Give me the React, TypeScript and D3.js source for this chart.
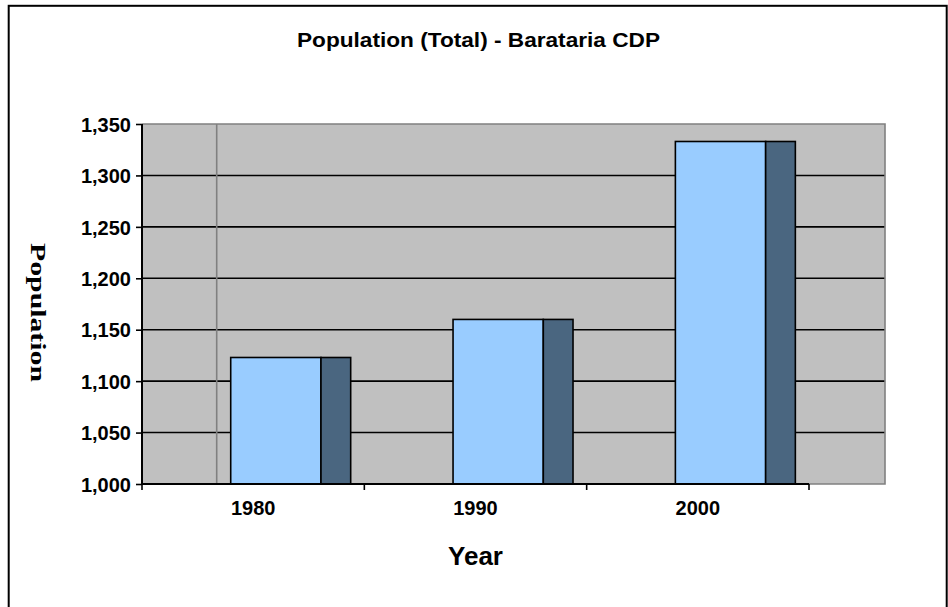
import { useEffect, useRef } from 'react';
import * as d3 from 'd3';

const years = ['1980', '1990', '2000'];
const population = [1123, 1160, 1333];
const yTicks = [1000, 1050, 1100, 1150, 1200, 1250, 1300, 1350];

const W = 948;
const H = 607;

export default function App() {
  const svgRef = useRef<SVGSVGElement>(null);

  useEffect(() => {
    const svg = d3.select(svgRef.current);
    if (!svg.node()) return;
    svg.selectAll('*').remove();

    const plot = { left: 142, right: 885, top: 124, bottom: 484 };
    const catEnd = 809;

    const x = d3.scaleBand<string>().domain(years).range([plot.left, catEnd]).padding(0);
    const y = d3.scaleLinear().domain([1000, 1350]).range([plot.bottom, plot.top]);
    const bw = x.bandwidth();

    // outer frame
    svg
      .append('rect')
      .attr('x', 8.7)
      .attr('y', 5.8)
      .attr('width', 938)
      .attr('height', 640)
      .attr('fill', '#fff')
      .attr('stroke', '#000')
      .attr('stroke-width', 2);

    svg
      .append('text')
      .attr('x', 478.5)
      .attr('y', 47)
      .attr('text-anchor', 'middle')
      .attr('font-family', 'Arial, "Liberation Sans", sans-serif')
      .attr('font-weight', 'bold')
      .attr('font-size', 20)
      .attr('textLength', 363)
      .attr('lengthAdjust', 'spacingAndGlyphs')
      .text('Population (Total) - Barataria CDP');

    // plot background
    svg
      .append('rect')
      .attr('x', plot.left)
      .attr('y', plot.top)
      .attr('width', plot.right - plot.left)
      .attr('height', plot.bottom - plot.top)
      .attr('fill', '#c0c0c0');

    // gridlines
    svg
      .append('g')
      .selectAll('line')
      .data(yTicks.filter((t) => t > 1000 && t < 1350))
      .join('line')
      .attr('x1', plot.left)
      .attr('x2', plot.right)
      .attr('y1', (d) => y(d))
      .attr('y2', (d) => y(d))
      .attr('stroke', '#000')
      .attr('stroke-width', 1.6);

    // odd gray vertical line from the source chart
    svg
      .append('line')
      .attr('x1', 216.7)
      .attr('x2', 216.7)
      .attr('y1', plot.top)
      .attr('y2', plot.bottom)
      .attr('stroke', '#808080')
      .attr('stroke-width', 1.6);

    // plot border (top/right/bottom-right) in gray
    svg
      .append('path')
      .attr('d', `M${plot.left},${plot.top}H${plot.right}V${plot.bottom}H${catEnd}`)
      .attr('fill', 'none')
      .attr('stroke', '#808080')
      .attr('stroke-width', 1.6);

    const bars = svg.append('g');
    years.forEach((yr, i) => {
      const x0 = (x(yr) ?? 0) + bw * 0.399;
      const fw = bw * 0.406;
      const sw = bw * 0.1336;
      const top = y(population[i]);
      bars
        .append('rect')
        .attr('x', x0)
        .attr('y', top)
        .attr('width', fw)
        .attr('height', plot.bottom - top)
        .attr('fill', '#99ccff')
        .attr('stroke', '#000')
        .attr('stroke-width', 1.6);
      bars
        .append('rect')
        .attr('x', x0 + fw)
        .attr('y', top)
        .attr('width', sw)
        .attr('height', plot.bottom - top)
        .attr('fill', '#4a6680')
        .attr('stroke', '#000')
        .attr('stroke-width', 1.6);
    });

    const font = 'Arial, "Liberation Sans", sans-serif';

    const yAxis = svg
      .append('g')
      .attr('transform', `translate(${plot.left},0)`)
      .call(
        d3
          .axisLeft(y)
          .tickValues(yTicks)
          .tickSize(6)
          .tickPadding(5)
          .tickFormat((d) => d3.format(',')(d as number)),
      );
    yAxis.select('.domain').attr('stroke-width', 2).attr('d', `M0,${plot.top}V${plot.bottom}`);
    yAxis.selectAll('.tick line').attr('stroke-width', 1.6);
    yAxis
      .selectAll('.tick text')
      .attr('font-family', font)
      .attr('font-weight', 'bold')
      .attr('font-size', 20)
      .attr('dy', '0.36em')
      .attr('fill', '#000');

    const xAxis = svg
      .append('g')
      .attr('transform', `translate(0,${plot.bottom})`)
      .call(d3.axisBottom(x).tickSize(0).tickPadding(17));
    xAxis.select('.domain').attr('stroke-width', 2).attr('d', `M${plot.left},0H${catEnd}`);
    xAxis
      .selectAll('.tick text')
      .attr('font-family', font)
      .attr('font-weight', 'bold')
      .attr('font-size', 20)
      .attr('fill', '#000');
    xAxis
      .selectAll('line.sep')
      .data([...years.map((yr) => x(yr) ?? 0), catEnd])
      .join('line')
      .attr('class', 'sep')
      .attr('x1', (d) => d)
      .attr('x2', (d) => d)
      .attr('y1', 0)
      .attr('y2', 6)
      .attr('stroke', '#000')
      .attr('stroke-width', 1.6);

    svg
      .append('text')
      .attr('x', 475.5)
      .attr('y', 564.5)
      .attr('text-anchor', 'middle')
      .attr('font-family', font)
      .attr('font-weight', 'bold')
      .attr('font-size', 25)
      .attr('textLength', 55)
      .attr('lengthAdjust', 'spacingAndGlyphs')
      .text('Year');

    svg
      .append('text')
      .attr('transform', 'translate(31,312.5) rotate(90)')
      .attr('text-anchor', 'middle')
      .attr('font-family', '"Liberation Serif", "Times New Roman", serif')
      .attr('font-weight', 'bold')
      .attr('font-size', 21)
      .attr('textLength', 139)
      .attr('lengthAdjust', 'spacingAndGlyphs')
      .text('Population');
  }, []);

  return (
    <svg
      ref={svgRef}
      width={W}
      height={H}
      style={{ position: 'absolute', left: 0, top: 0, background: '#fff' }}
    />
  );
}
